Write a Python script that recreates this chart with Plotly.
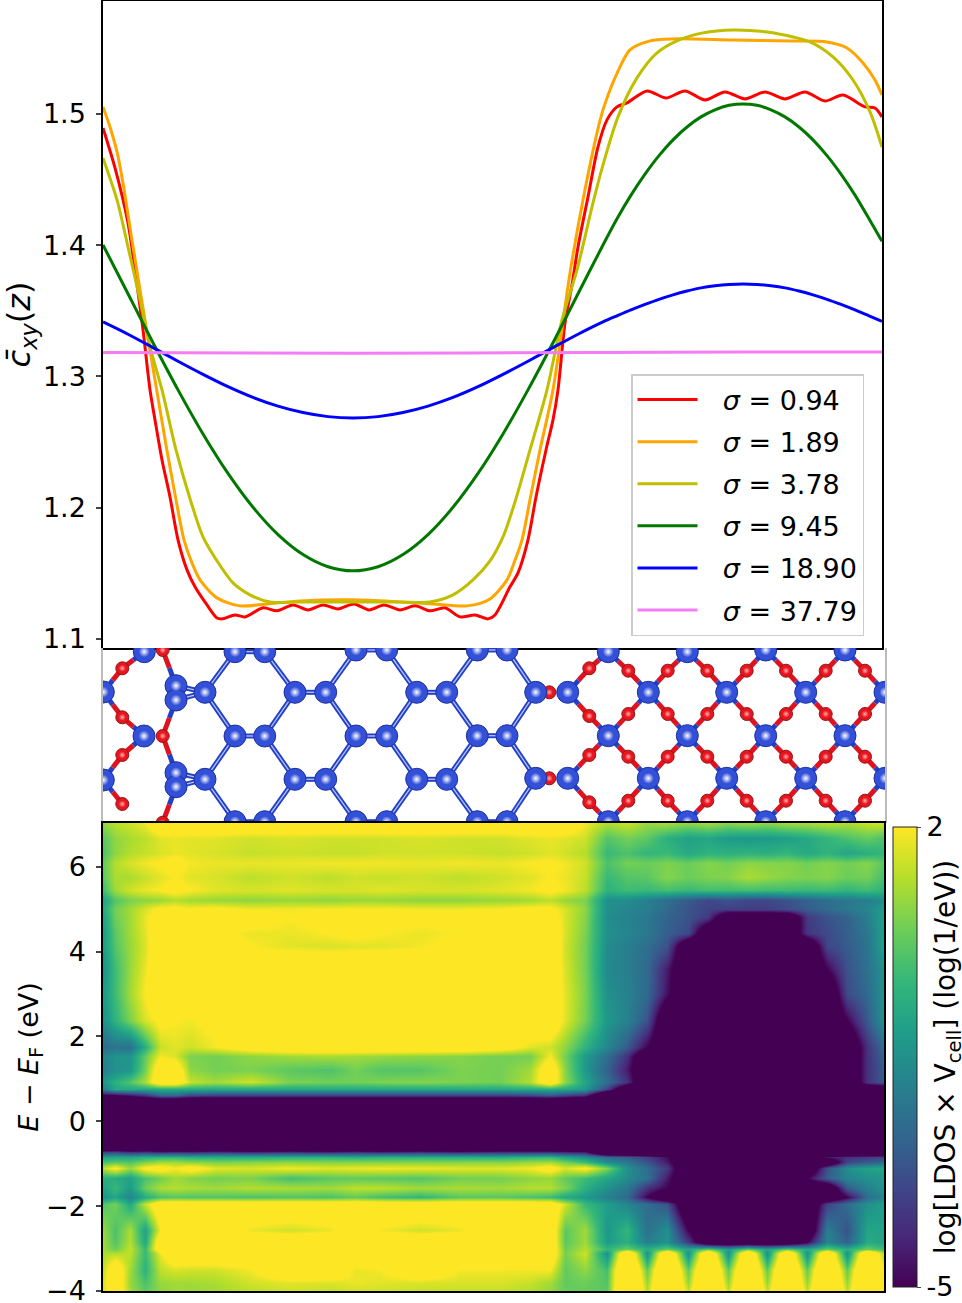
import math
import plotly.graph_objects as go

# --- top panel: c_xy(z), z in the same units for all three panels ---
z_red = [103, 115, 128, 135, 143, 150, 155, 162, 170, 178, 187, 195, 207, 217, 222, 235, 245, 263, 277, 293, 308, 323, 338,
         354, 369, 384, 400, 415, 430, 445, 460, 475, 488, 495, 510, 518, 528, 536, 546, 553, 558, 565, 572, 578, 588, 598,
         607, 617, 627, 647, 666, 685, 705, 725, 745, 765, 785, 805, 825, 843, 865, 875, 882]
c_red = [1.4894, 1.4589, 1.4170, 1.3812, 1.3355, 1.2898, 1.2669, 1.2364, 1.2082, 1.1755, 1.1526, 1.1397, 1.1259, 1.1160, 1.1153,
         1.1183, 1.1168, 1.1237, 1.1214, 1.1259, 1.1221, 1.1259, 1.1229, 1.1267, 1.1221, 1.1259, 1.1221, 1.1252, 1.1214,
         1.1237, 1.1168, 1.1183, 1.1153, 1.1183, 1.1397, 1.1503, 1.1755, 1.2082, 1.2440, 1.2669, 1.2898, 1.3408, 1.3698,
         1.3987, 1.4368, 1.4749, 1.4955, 1.5054, 1.5084, 1.5176, 1.5122, 1.5176, 1.5107, 1.5168, 1.5115, 1.5168, 1.5115,
         1.5168, 1.5099, 1.5145, 1.5054, 1.5046, 1.4978]

z_orange = [103, 110, 117, 123, 128, 140, 155, 166, 176, 184, 192, 200, 217, 240, 267, 300, 353, 400, 433, 467, 490, 507, 514,
            522, 530, 540, 553, 570, 583, 597, 603, 610, 615, 630, 650, 673, 733, 793, 827, 847, 863, 875, 882]
c_orange = [1.5054, 1.4901, 1.4711, 1.4475, 1.4231, 1.3659, 1.2974, 1.2478, 1.2060, 1.1755, 1.1579, 1.1450, 1.1313, 1.1252,
            1.1267, 1.1290, 1.1298, 1.1282, 1.1267, 1.1252, 1.1305, 1.1450, 1.1579, 1.1755, 1.2060, 1.2440, 1.2898, 1.3789,
            1.4345, 1.4856, 1.5031, 1.5183, 1.5275, 1.5488, 1.5557, 1.5572, 1.5564, 1.5557, 1.5549, 1.5503, 1.5389, 1.5259,
            1.5145]

z_olive = [103, 117, 128, 140, 150, 162, 176, 191, 203, 217, 233, 250, 270, 300, 353, 400, 430, 453, 473, 490, 503, 515, 530,
           547, 562, 577, 593, 603, 618, 637, 657, 677, 703, 733, 767, 793, 810, 833, 853, 870, 882]
c_olive = [1.4665, 1.4345, 1.3987, 1.3583, 1.3225, 1.2898, 1.2440, 1.2044, 1.1778, 1.1595, 1.1427, 1.1336, 1.1282, 1.1282,
           1.1282, 1.1282, 1.1282, 1.1336, 1.1450, 1.1595, 1.1778, 1.2044, 1.2440, 1.2898, 1.3431, 1.3812, 1.4322, 1.4612,
           1.4978, 1.5275, 1.5465, 1.5557, 1.5618, 1.5640, 1.5625, 1.5587, 1.5549, 1.5435, 1.5259, 1.5016, 1.4749]

z_green = [103, 128, 153, 178, 203, 228, 253, 278, 303, 328, 353, 378, 403, 428, 453, 478, 503, 528, 553, 578, 603,
           617, 631, 645, 659, 673, 687, 701, 715, 729, 743, 757, 771, 785, 799, 813, 827, 841, 855, 869, 882]
c_green = [1.4002, 1.3630, 1.3257, 1.2898, 1.2562, 1.2261, 1.2003, 1.1795, 1.1643, 1.1550, 1.1519, 1.1550, 1.1643, 1.1795,
           1.2003, 1.2261, 1.2562, 1.2898, 1.3257, 1.3630, 1.4002,
           1.4202, 1.4382, 1.4542, 1.4683, 1.4803, 1.4901, 1.4978, 1.5032, 1.5066, 1.5077, 1.5066, 1.5032, 1.4978, 1.4901,
           1.4803, 1.4683, 1.4542, 1.4382, 1.4202, 1.4030]

z_blue = [103, 128, 153, 178, 203, 228, 253, 278, 303, 328, 353, 378, 403, 428, 453, 478, 503, 528, 553, 578, 603,
          617, 631, 645, 659, 673, 687, 701, 715, 729, 743, 757, 771, 785, 799, 813, 827, 841, 855, 869, 882]
c_blue = [1.3416, 1.3322, 1.3220, 1.3116, 1.3016, 1.2922, 1.2840, 1.2774, 1.2725, 1.2694, 1.2684, 1.2694, 1.2725, 1.2774,
          1.2840, 1.2922, 1.3016, 1.3116, 1.3220, 1.3322, 1.3416,
          1.3462, 1.3507, 1.3549, 1.3588, 1.3622, 1.3651, 1.3675, 1.3691, 1.3701, 1.3705, 1.3701, 1.3691, 1.3675, 1.3651,
          1.3622, 1.3588, 1.3549, 1.3507, 1.3462, 1.3420]

z_pink = [103, 353, 603, 743, 882]
c_pink = [1.3183, 1.3176, 1.3183, 1.3187, 1.3187]

sigmas = ["0.94", "1.89", "3.78", "9.45", "18.90", "37.79"]
line_colors = ["#ff0000", "#ffa500", "#bfbf00", "#007800", "#0000ff", "#f47cf4"]

# --- middle panel: atoms ---
si_x = [144.3, 103.3, 144, 103.3, 176, 176, 205, 235, 264.7, 295, 325.7, 356, 386.7, 416.7, 446.7, 477.3, 507,
        235, 264.7, 356, 386.7, 477.3, 507,
        176, 176, 205, 295, 325.7, 416.7, 446.7,
        235, 264.7, 356, 386.7, 477.3, 507, 535.7, 535.7,
        567.7, 567.7, 608.3, 608.3, 608.3, 648.3, 648.3, 687.3, 687.3, 687.3, 726.7, 726.7,
        765.7, 765.7, 765.7, 805.7, 805.7, 845, 845, 845, 885, 885]
si_y = [651.7, 692, 736, 780, 685.7, 700, 692.3, 651.7, 651.7, 692.3, 692.3, 650, 650, 692.3, 692.3, 650, 650,
        736, 736, 736, 736, 735.7, 735.7,
        772.7, 786.7, 779.3, 779.3, 779.3, 779.3, 779.3,
        821.7, 821.7, 821.7, 821.7, 821.7, 821.7, 692.3, 778.3,
        692.3, 778.3, 651.7, 735.7, 821.7, 692.3, 778.3, 651.7, 735.7, 821.7, 692.3, 778.3,
        650, 735.7, 821.7, 692.3, 778.3, 650, 735.7, 821.7, 692.3, 778.3]
o_x = [122.3, 122.3, 122.3, 122.3, 162.7, 162.7, 162.7, 549.3, 549.3,
       589.3, 589.3, 589.3, 589.3, 628.3, 628.3, 628.3, 628.3, 667.7, 667.7, 667.7, 667.7,
       707.3, 707.3, 707.3, 707.3, 746.7, 746.7, 746.7, 746.7, 786, 786, 786, 786,
       825.7, 825.7, 825.7, 825.7, 865, 865, 865, 865]
o_y = [668.3, 717.3, 755, 804, 650, 736, 822.7, 692.3, 778.3,
       668.3, 716, 755, 802.3, 670.7, 714, 756.7, 800.7, 670.7, 714, 756.7, 800.7,
       670.7, 714, 756.7, 800.7, 670.7, 714, 756.7, 800.7, 670.7, 714, 756.7, 800.7,
       670.7, 714, 756.7, 800.7, 670.7, 714, 756.7, 800.7]

# --- bottom panel: LDOS (values past the -5..2 colour range are saturated) ---
ldos_z = [103, 115, 130, 145, 160, 175, 190, 215, 250, 290, 330, 355, 380, 420, 460, 500, 530, 550, 565, 585,
          607, 627, 647, 667, 688, 708, 728, 748, 767, 787, 807, 827, 847, 867, 884]
ldos_e = [7.05, 6.67, 6.32, 6.08, 5.76, 5.45, 5.21, 5.0, 4.81, 4.43, 4.12, 3.6, 3.0, 2.38, 1.75, 1.55, 1.2, 0.92, 0.75,
          0.62, 0.45, -0.6, -0.73, -0.85, -0.95, -1.11, -1.34, -1.58, -1.79, -1.95, -2.57, -2.85, -3.0, -3.1, -3.5,
          -3.8, -4.0]

# graphene-like side, first 20 columns
ldos_left = [
    [0.9, 1.3, 1.5, 1.9, 3, 3, 3, 3, 3, 3, 3, 3, 3, 3, 3, 3, 3, 3, 3, 1.9],
    [0.2, 0.8, 1.1, 1.3, 1.7, 1.8, 1.7, 1.7, 1.5, 1.6, 1.5, 1.5, 1.5, 1.6, 1.5, 1.5, 1.7, 1.8, 1.7, 1.5],
    [0.0, 0.8, 1.2, 1.4, 1.6, 1.8, 1.7, 1.6, 1.4, 1.5, 1.4, 1.4, 1.5, 1.5, 1.5, 1.4, 1.5, 1.7, 1.5, 1.2],
    [0.3, 1.2, 1.6, 1.9, 2.1, 2.3, 1.9, 1.8, 1.8, 1.8, 1.9, 1.9, 1.9, 1.8, 1.9, 1.8, 2, 2.1, 1.9, 1.5],
    [0.2, 1.1, 1.1, 1.4, 1.7, 2, 1.7, 1.6, 1.3, 1.5, 1.3, 1.5, 1.4, 1.5, 1.3, 1.5, 1.7, 2, 1.8, 1.4],
    [-0.2, 1.0, 1.5, 1.8, 2, 2.3, 2, 1.7, 1.6, 1.7, 1.6, 1.6, 1.7, 1.6, 1.6, 1.7, 1.9, 2.2, 1.9, 1.3],
    [-1.0, 0.1, 0.6, 0.8, 0.9, 1.2, 1.0, 0.9, 0.8, 0.9, 0.8, 0.9, 0.9, 0.8, 0.8, 0.9, 1.0, 1.3, 0.9, 0.6],
    [-0.8, 0.5, 1.0, 1.6, 2.2, 2.2, 2, 2.2, 1.9, 1.9, 2, 2, 2, 1.9, 1.9, 2, 2.2, 2.2, 1.6, 0.8],
    [-1.0, 0.4, 1.0, 1.8, 2.5, 2.5, 2, 2.5, 2.5, 2, 2.2, 2.5, 2.2, 2.2, 2.2, 2.5, 2.5, 2.5, 1.6, 0.7],
    [-1.2, 0.2, 1.0, 1.7, 3, 3, 3, 2.2, 1.8, 1.8, 2, 2.2, 2, 1.8, 2, 2.2, 3, 3, 1.6, 0.6],
    [-1.2, 0.1, 0.9, 1.6, 3, 3, 3, 3, 2, 1.7, 1.6, 1.7, 1.7, 1.9, 2.2, 3, 3, 3, 1.5, 0.5],
    [-1.5, -0.2, 0.9, 1.8, 3, 3, 3, 2.2, 2.2, 3, 3, 3, 3, 3, 2.2, 3, 3, 3, 1.6, 0.5],
    [-1.3, -0.2, 1.0, 2, 3, 3, 3, 3, 3, 3, 3, 3, 3, 3, 3, 3, 3, 3, 1.7, 0.6],
    [-1.5, -0.5, 0.6, 1.6, 2.2, 2, 1.9, 2.2, 3, 3, 3, 3, 3, 3, 3, 3, 3, 3, 1.7, 0.5],
    [-2.6, -2.3, -2.4, -0.6, 1.4, 1.7, 1.5, 1.9, 2.6, 3, 3, 3, 3, 3, 3, 2.6, 1.7, 1.5, 0.8, -0.5],
    [-1.8, -1.4, -1.4, 0.3, 1.9, 1.6, 0.6, 0.5, 0.8, 1.0, 1.1, 1.0, 0.9, 0.8, 0.7, 0.5, 0.5, 1.9, 0.5, -1.2],
    [-2.0, -1.5, -1.3, 0.5, 3, 3, 0.8, 0.5, 0.6, 0.2, 0.0, 0.5, 0.1, 0.1, 0.6, 0.5, 1.0, 3, 0.7, -1.3],
    [-1.3, -0.6, 0.1, 1.1, 3, 3, 1.4, 1.0, 1.5, 0.6, 0.5, 0.5, 0.6, 0.7, 0.6, 0.5, 1.2, 3, 0.8, -0.9],
    [-2.0, -0.8, -0.8, -0.8, -0.7, -0.7, -0.7, -0.8, -0.8, -0.8, -0.8, -0.8, -0.8, -0.8, -0.8, -0.8, -0.7, -0.7, -0.8, -1.2],
    [-5, -5, -4.5, -3.8, -2.6, -2.6, -3.4, -3.6, -3.6, -3.6, -3.6, -3.6, -3.6, -3.6, -3.6, -3.6, -3.4, -3.0, -3.5, -4.0],
    [-8] * 20,
    [-8] * 20,
    [-3.6, -3.5, -4.0, -3.8, -4.2, -4.0, -4.2, -3.9, -4.2, -4.0, -4.2, -4.0, -4.2, -4.0, -4.2, -4.0, -4.0, -4.0, -4.2, -4.4],
    [-1.0, -0.8, -0.9, -0.6, -0.4, -0.4, -0.6, -0.6, -0.7, -0.5, -0.5, -0.6, -0.5, -0.5, -0.6, -0.6, -0.4, -0.3, -0.9, -1.5],
    [0.0, 0.2, 0.1, 0.6, 1.0, 1.0, 0.8, 0.6, 0.7, 0.8, 0.7, 0.7, 0.7, 0.7, 0.7, 0.7, 0.9, 1.0, 0.5, -0.2],
    [1.3, 2.2, 0.9, 2.2, 2.5, 1.9, 2.5, 1.7, 1.6, 1.9, 1.7, 1.8, 1.9, 1.8, 1.7, 1.7, 1.9, 2.5, 1.6, 2.2],
    [-0.6, -0.7, -1.0, 0.0, 0.5, 1.0, 0.7, 0.5, 0.6, -0.1, 0.2, 0.3, 0.2, 0.1, 0.5, 0.5, 0.8, 0.9, 0.3, -0.2],
    [-1.0, -0.3, -1.2, 0.4, 1.1, 1.2, 1.1, 1.0, 1.2, 1.1, 1.0, 1.3, 1.3, 1.0, 1.1, 1.0, 1.2, 1.2, 0.6, -0.6],
    [-1.4, -0.9, -1.8, -0.7, 0.0, 0.2, 0.1, 0.1, 0.0, 0.1, 0.0, 0.3, -0.1, -0.4, 0.2, 0.2, 0.0, -0.2, -0.8, -1.2],
    [0.1, 0.5, -0.8, 1.4, 3, 3, 3, 3, 3, 3, 3, 3, 3, 3, 3, 3, 3, 3, 1.5, -0.3],
    [0.9, 0.0, 1.1, -1.0, 1.9, 3, 3, 3, 1.8, 1.5, 1.8, 3, 1.9, 1.5, 1.8, 3, 3, 3, 0.2, 1.0],
    [1.0, 0.1, 1.2, -0.8, 3, 3, 3, 3, 3, 3, 3, 3, 3, 3, 3, 3, 3, 3, 0.2, 1.0],
    [1.0, 0.4, 1.4, -0.3, 3, 3, 3, 3, 3, 3, 3, 3, 3, 3, 3, 3, 3, 3, 0.4, 1.2],
    [1.1, 1.2, 1.3, -0.3, 1.8, 3, 3, 3, 3, 3, 3, 3, 3, 3, 3, 3, 3, 3, 0.5, 1.5],
    [1.4, 3, 1.0, -0.5, 1.3, 1.6, 1.5, 1.5, 1.9, 3, 3, 1.8, 1.9, 3, 1.9, 1.9, 1.9, 1.9, 0.3, 0.8],
    [1.6, 3, 0.9, 0.0, 0.9, 1.0, 1.0, 1.1, 1.5, 1.7, 1.6, 1.8, 1.7, 1.6, 1.6, 1.6, 1.4, 1.0, 0.3, 0.4],
    [1.5, 3, 1.0, 0.2, 0.8, 1.0, 0.9, 1.0, 1.3, 1.5, 1.4, 1.5, 1.5, 1.4, 1.4, 1.4, 1.2, 0.9, 0.4, 0.3],
]

# oxide side, last 15 columns
ldos_right = [
    [1.2, 1.5, 1.0, 1.2, 0.9, 1.2, 0.9, 1.1, 0.9, 1.2, 1.2, 1.4, 1.2, 1.5, 1.6],
    [0.1, 0.5, 0.2, -0.6, -1.0, -0.9, -1.2, -1.3, -1.2, -1.1, -0.8, -0.4, 0.0, 0.3, 0.0],
    [-0.3, 0.0, -0.4, -0.3, -0.8, -0.5, -0.6, -0.5, -0.6, -0.4, -0.8, -0.5, -0.9, -0.6, -0.4],
    [0.0, 0.5, 0.4, 0.6, 0.4, 0.7, 0.5, 0.8, 0.7, 0.7, 0.5, 0.7, 0.5, 0.7, 0.2],
    [-0.3, 0.1, 0.2, 0.7, 0.4, 0.6, 0.7, 1.1, 0.9, 0.7, 0.6, 0.7, 0.4, 0.5, -0.1],
    [-0.5, -0.2, -0.3, -0.1, -0.3, -0.1, -0.2, -0.1, -0.2, -0.2, -0.3, -0.2, -0.4, -0.2, -0.5],
    [-1.5, -1.6, -2.0, -2.5, -3.0, -3.5, -3.2, -3.5, -3.5, -3.2, -2.8, -2.5, -2.2, -2.0, -1.6],
    [-1.5, -1.8, -2.0, -2.6, -3.2, -3.6, -3.7, -3.7, -3.7, -3.4, -3.0, -2.6, -2.2, -1.8, -1.2],
    [-1.6, -1.9, -2.2, -2.8, -3.2, -3.8, -7, -7, -7, -7, -3.8, -3.2, -2.8, -2.0, -1.0],
    [-1.5, -1.8, -2.2, -2.9, -3.4, -7, -7, -7, -7, -7, -3.9, -3.4, -2.9, -2.2, -1.0],
    [-1.6, -2.0, -2.5, -3.2, -7, -7, -7, -7, -7, -7, -7, -3.5, -3.0, -2.3, -1.0],
    [-1.7, -2.0, -2.6, -4.5, -7, -7, -7, -7, -7, -7, -7, -5, -3.2, -2.4, -1.4],
    [-1.5, -1.9, -2.6, -4.7, -7, -7, -7, -7, -7, -7, -7, -7, -3.4, -2.6, -1.4],
    [-1.3, -1.9, -3.2, -7, -7, -7, -7, -7, -7, -7, -7, -7, -5, -3.0, -1.4],
    [-1.8, -3.0, -5, -7, -7, -7, -7, -7, -7, -7, -7, -7, -7, -4.0, -2.5],
    [-2.5, -4.0, -7, -7, -7, -7, -7, -7, -7, -7, -7, -7, -7, -4.0, -2.8],
    [-2.8, -4.5, -7, -7, -7, -7, -7, -7, -7, -7, -7, -7, -7, -4.0, -3.0],
    [-2.5, -4.0, -7, -7, -7, -7, -7, -7, -7, -7, -7, -7, -7, -4.0, -3.0],
    [-3.6, -7, -7, -7, -7, -7, -7, -7, -7, -7, -7, -7, -7, -7, -7],
    [-8] * 15,
    [-8] * 15,
    [-8] * 15,
    [-8] * 15,
    [-2.5, -3.0, -3.7, -4.8, -7, -7, -7, -7, -7, -7, -7, -4.6, -4.0, -3.8, -3.6],
    [-1.6, -2.2, -3.2, -4.5, -7, -7, -7, -7, -7, -7, -7, -7, -3.5, -3.0, -2.6],
    [0.6, -1.5, -2.5, -3.8, -7, -7, -7, -7, -7, -7, -7, -3.2, -1.6, -1.0, -0.8],
    [-0.9, -1.6, -2.4, -4.5, -7, -7, -7, -7, -7, -7, -5, -3.0, -1.8, -1.5, -1.3],
    [-1.5, -2.2, -4.0, -5, -7, -7, -7, -7, -7, -7, -7, -7, -3.0, -1.9, -1.4],
    [-2.0, -2.6, -5, -7, -7, -7, -7, -7, -7, -7, -7, -7, -5, -2.5, -1.8],
    [-1.1, -1.8, -2.5, -3.2, -7, -7, -7, -7, -7, -7, -7, -3.6, -2.5, -1.5, -1.1],
    [-1.3, -0.4, -2.4, -1.5, -5, -7, -7, -7, -7, -7, -7, -2.0, -3.2, -0.9, -1.0],
    [-1.2, -0.6, -2.0, -1.4, -3.8, -7, -7, -7, -7, -7, -5, -1.8, -2.8, -0.8, -0.9],
    [-0.4, 0.4, -0.6, 0.3, -0.9, 0.3, -1.1, 0.3, -0.9, 0.3, -0.8, 0.3, -0.6, 0.4, -0.2],
    [-1.5, 4, -1.5, 4, -1.5, 4, -1.5, 4, -1.5, 4, -1.5, 4, -1.5, 4, 1.0],
    [-0.1, 5, 0.3, 5, 0.3, 5, 0.3, 5, 0.3, 5, 0.3, 5, 0.3, 5, 1.8],
    [0.1, 5, 0.9, 5, 0.9, 5, 0.9, 5, 0.9, 5, 0.9, 5, 0.9, 5, 1.9],
    [0.2, 5, 1.2, 5, 1.4, 5, 1.4, 5, 1.4, 5, 1.4, 5, 1.3, 5, 1.9],
]

ldos = [a + b for a, b in zip(ldos_left, ldos_right)]

W, H = 962, 1303
SI_BLUE = "#3350d8"
SI_EDGE = "#1f2f9c"
O_RED = "#e8141e"
O_EDGE = "#8c1a1a"
FONT = "DejaVu Sans"


def xdom(a, b):
    return [a / W, b / W]


def ydom(top, bottom):
    return [1 - bottom / H, 1 - top / H]


def bond_lines():
    # Si-Si network only in the graphene-like part, Si-O everywhere
    si_si = []
    for i in range(len(si_x)):
        for j in range(i + 1, len(si_x)):
            if min(si_x[i], si_x[j]) < 170 or max(si_x[i], si_x[j]) > 540:
                continue
            if 20 < math.hypot(si_x[i] - si_x[j], si_y[i] - si_y[j]) < 56:
                si_si.append((i, j))
    si_o = []
    for i in range(len(si_x)):
        for k in range(len(o_x)):
            if 20 < math.hypot(si_x[i] - o_x[k], si_y[i] - o_y[k]) < 40:
                si_o.append((i, k))
    return si_si, si_o


fig = go.Figure()

curves = [(z_red, c_red), (z_orange, c_orange), (z_olive, c_olive), (z_green, c_green), (z_blue, c_blue), (z_pink, c_pink)]
for (zz, cc), s, col in zip(curves, sigmas, line_colors):
    fig.add_trace(go.Scatter(x=zz, y=cc, mode="lines", name="\u2002\u2005<i>σ</i> = " + s, legendgroup=s,
                             line=dict(color=col, width=3, shape="spline", smoothing=0.8)))

si_si, si_o = bond_lines()
xs, ys = [], []
for i, j in si_si:
    xs += [si_x[i], si_x[j], None]
    ys += [si_y[i], si_y[j], None]
fig.add_trace(go.Scatter(x=xs, y=ys, mode="lines", xaxis="x2", yaxis="y2", showlegend=False,
                         line=dict(color="#2340c8", width=5)))
fig.add_trace(go.Scatter(x=xs, y=ys, mode="lines", xaxis="x2", yaxis="y2", showlegend=False,
                         line=dict(color="#b8c4f4", width=1.3)))

blue_x, blue_y, red_x, red_y = [], [], [], []
for i, k in si_o:
    mx, my = (si_x[i] + o_x[k]) / 2, (si_y[i] + o_y[k]) / 2
    blue_x += [si_x[i], mx, None]
    blue_y += [si_y[i], my, None]
    red_x += [o_x[k], mx, None]
    red_y += [o_y[k], my, None]
fig.add_trace(go.Scatter(x=blue_x, y=blue_y, mode="lines", xaxis="x2", yaxis="y2", showlegend=False,
                         line=dict(color="#2340c8", width=5)))
fig.add_trace(go.Scatter(x=red_x, y=red_y, mode="lines", xaxis="x2", yaxis="y2", showlegend=False,
                         line=dict(color="#dd1420", width=5)))

fig.add_trace(go.Scatter(x=o_x, y=o_y, mode="markers", xaxis="x2", yaxis="y2", showlegend=False,
                         marker=dict(size=13, color=O_RED, line=dict(color=O_EDGE, width=1))))
fig.add_trace(go.Scatter(x=o_x, y=o_y, mode="markers", xaxis="x2", yaxis="y2", showlegend=False,
                         marker=dict(size=7, color=O_RED, gradient=dict(type="radial", color="#ffb0b0"), line=dict(width=0))))
fig.add_trace(go.Scatter(x=si_x, y=si_y, mode="markers", xaxis="x2", yaxis="y2", showlegend=False,
                         marker=dict(size=22, color=SI_BLUE, line=dict(color=SI_EDGE, width=1))))
fig.add_trace(go.Scatter(x=si_x, y=si_y, mode="markers", xaxis="x2", yaxis="y2", showlegend=False,
                         marker=dict(size=11, color=SI_BLUE, gradient=dict(type="radial", color="white"), line=dict(width=0))))

fig.add_trace(go.Heatmap(x=ldos_z, y=ldos_e, z=ldos, xaxis="x3", yaxis="y3", colorscale="Viridis", zmin=-5, zmax=2,
                         zsmooth="best", showlegend=False, hoverinfo="skip",
                         colorbar=dict(x=893 / W, xanchor="left", y=1 - 1057 / H, yanchor="middle", len=460 / H,
                                       thickness=24, xpad=0, ypad=0, outlinewidth=1, outlinecolor="#222",
                                       tickvals=[-5, 2], ticktext=["-5", "2"], ticks="outside", ticklen=4,
                                       tickfont=dict(size=27, family=FONT, color="black"),
                                       title=dict(text="log[LDOS × V<sub>cell</sub>] (log(1/eV))", side="right",
                                                  font=dict(size=28, family=FONT, color="black")))))

frame = dict(showline=True, linecolor="black", linewidth=1.5, mirror=True, showgrid=False, zeroline=False)
fig.update_layout(
    width=W, height=H, autosize=False, margin=dict(l=0, r=0, t=0, b=0, autoexpand=False),
    paper_bgcolor="white", plot_bgcolor="white", hovermode=False,
    font=dict(family=FONT, size=26, color="black"),
    legend=dict(x=631 / W, y=1 - 374 / H, xanchor="left", yanchor="top", bgcolor="rgba(255,255,255,0.8)",
                bordercolor="#cccccc", borderwidth=1.5, font=dict(size=27, family=FONT), itemwidth=60,
                entrywidth=188, tracegroupgap=4, traceorder="grouped"),
    xaxis=dict(domain=xdom(103, 882), range=[103, 882], showticklabels=False, ticks="", **frame),
    yaxis=dict(domain=ydom(1, 648), range=[1.0931, 1.5861], tickvals=[1.1, 1.2, 1.3, 1.4, 1.5], tickformat=".1f",
               ticks="outside", ticklen=5, tickwidth=1.5, tickfont=dict(size=27), ticklabelstandoff=5,
               title=dict(text="<i>c̄</i><sub><i>xy</i></sub>(<i>z</i>)", font=dict(size=32), standoff=15), **frame),
    xaxis2=dict(domain=xdom(103, 885), range=[103, 885], visible=False, anchor="y2"),
    yaxis2=dict(domain=ydom(648, 823), range=[823, 648], anchor="x2", showticklabels=False, ticks="", showgrid=False,
                zeroline=False, showline=True, linecolor="#bbbbbb", linewidth=1.5, mirror=True),
    xaxis3=dict(domain=xdom(103, 884), range=[103, 884], showticklabels=False, ticks="", anchor="y3", **frame),
    yaxis3=dict(domain=ydom(823, 1291), range=[-4, 7.03], anchor="x3", tickvals=[-4, -2, 0, 2, 4, 6], ticks="outside",
                ticklen=5, tickwidth=1.5, tickfont=dict(size=27), ticklabelstandoff=5, ticklabeloverflow="allow",
                title=dict(text="<i>E</i> − <i>E</i><sub>F</sub> (eV)", font=dict(size=27), standoff=0), **frame),
)

# the page's default body margin would push the figure off the window
fig.write_html("out.html", config={"displayModeBar": False}, post_script="document.body.style.margin='0';")
